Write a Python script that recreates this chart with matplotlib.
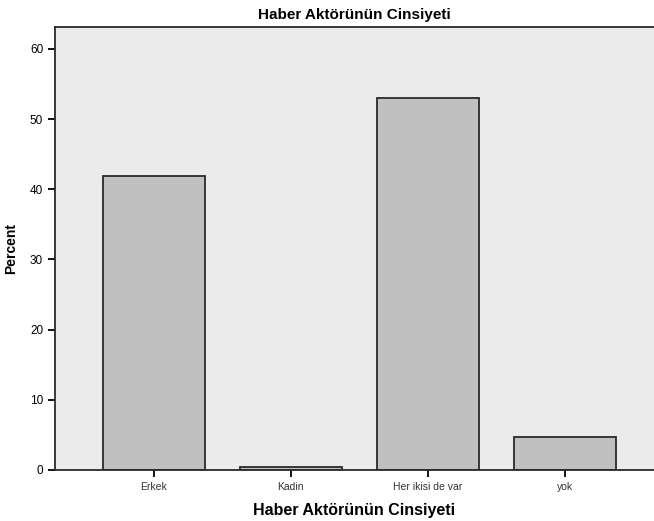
import matplotlib

matplotlib.use("Agg")
import matplotlib.pyplot as plt

categories = ["Erkek", "Kadin", "Her ikisi de var", "yok"]
percent = [41.9, 0.4, 53.0, 4.7]
y_ticks = [0, 10, 20, 30, 40, 50, 60]

plt.rcParams["font.family"] = ["Liberation Sans", "DejaVu Sans"]

fig = plt.figure(figsize=(6.54, 5.21), dpi=100)
ax = fig.add_axes([0.084, 0.098, 0.916, 0.850])
ax.set_facecolor("#ebebeb")

x = range(len(categories))
ax.bar(x, percent, width=0.745, color="#c0c0c0", edgecolor="#2a2a2a", linewidth=1.3, zorder=2)

ax.set_xlim(-0.72, 3.65)
ax.set_ylim(0, 63.1)
ax.set_xticks(list(x))
ax.set_xticklabels(categories, fontsize=7.5, color="#333333")
ax.set_yticks(y_ticks)
ax.tick_params(axis="y", labelsize=8.5, length=5, width=1.3)
ax.tick_params(axis="x", length=5, width=1.3)

for side in ["left", "bottom", "top"]:
    ax.spines[side].set_linewidth(1.3)
    ax.spines[side].set_color("#2a2a2a")
ax.spines["right"].set_visible(False)

ax.set_title("Haber Aktörünün Cinsiyeti", fontsize=11, fontweight="bold", pad=6)
ax.set_xlabel("Haber Aktörünün Cinsiyeti", fontsize=11.5, fontweight="bold", labelpad=8)
ax.set_ylabel("Percent", fontsize=10, fontweight="bold")
ax.yaxis.set_label_coords(-0.062, 0.5)

fig.savefig("out.png", dpi=100)
